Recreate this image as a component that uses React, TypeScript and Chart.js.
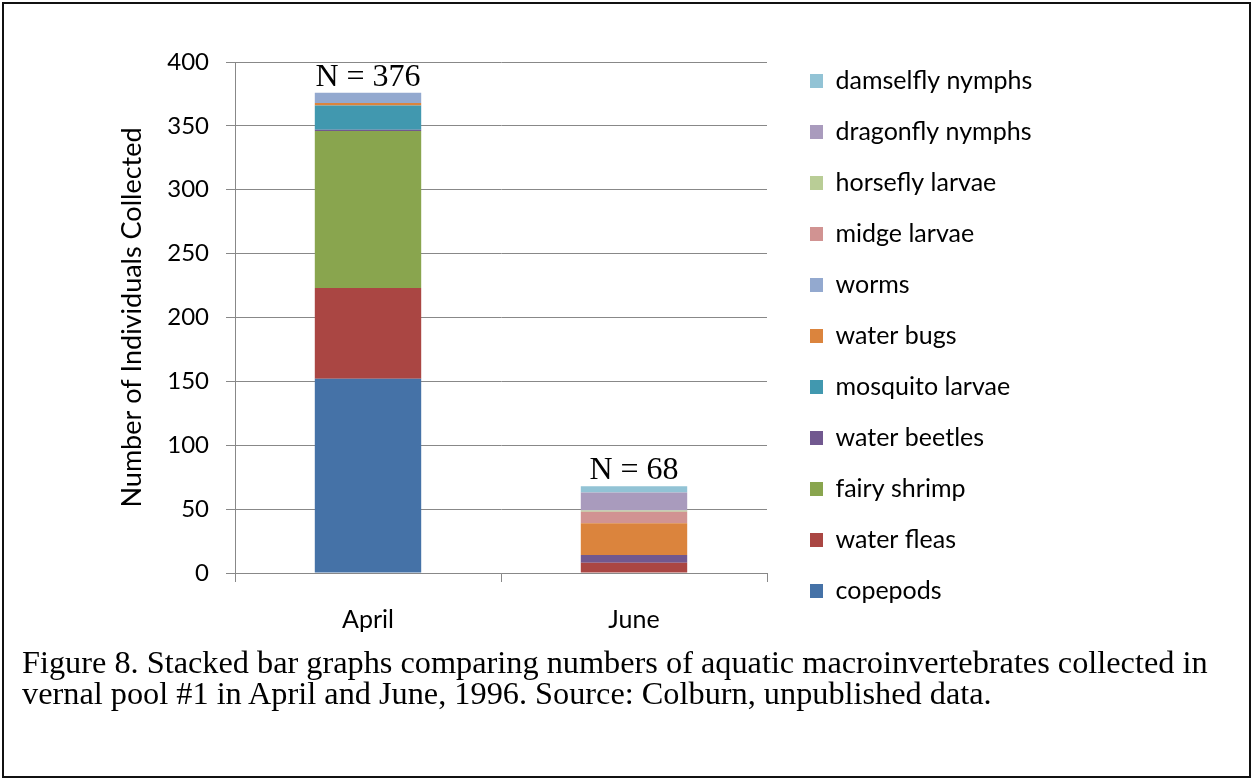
import React, { useEffect, useRef } from "react";
import { Chart, registerables } from "chart.js";

Chart.register(...registerables);

const months = ["April", "June"];
const seriesNames = [
  "copepods",
  "water fleas",
  "fairy shrimp",
  "water beetles",
  "mosquito larvae",
  "water bugs",
  "worms",
  "midge larvae",
  "horsefly larvae",
  "dragonfly nymphs",
  "damselfly nymphs",
];
const copepods = [152, 0];
const waterFleas = [71, 8];
const fairyShrimp = [123, 0];
const waterBeetles = [1, 6];
const mosquitoLarvae = [19, 0];
const waterBugs = [2, 25];
const worms = [8, 0];
const midgeLarvae = [0, 9];
const horseflyLarvae = [0, 1];
const dragonflyNymphs = [0, 14];
const damselflyNymphs = [0, 5];
const seriesValues = [
  copepods,
  waterFleas,
  fairyShrimp,
  waterBeetles,
  mosquitoLarvae,
  waterBugs,
  worms,
  midgeLarvae,
  horseflyLarvae,
  dragonflyNymphs,
  damselflyNymphs,
];
const seriesColors = [
  "#4572A7",
  "#AA4643",
  "#89A54E",
  "#71588F",
  "#4198AF",
  "#DB843D",
  "#93A9CF",
  "#D19392",
  "#B9CD96",
  "#A99BBD",
  "#92C3D5",
];
const yAxisTitle = "Number of Individuals Collected";
const captionLines = [
  "Figure 8. Stacked bar graphs comparing numbers of aquatic macroinvertebrates collected in",
  "vernal pool #1 in April and June, 1996. Source: Colburn, unpublished data.",
];

const W = 1253;
const H = 660;
const FONT = "Lato";
const TICK_FS = 24;
const LEG_FS = 25;
const PLOT_RIGHT = 767;

const totalsPlugin = {
  id: "totalsLabels",
  afterDatasetsDraw(chart: any) {
    const ctx = chart.ctx;
    const xs = chart.scales.x;
    const ys = chart.scales.y;
    ctx.save();
    ctx.font = '32px "Liberation Serif"';
    ctx.fillStyle = "#000";
    ctx.textAlign = "center";
    ctx.textBaseline = "alphabetic";
    months.forEach((_, i) => {
      const total = seriesValues.reduce((s, arr) => s + arr[i], 0);
      const x = xs.getPixelForValue(i);
      const y = ys.getPixelForValue(total) - 7;
      ctx.fillText(`N = ${total}`, x, y);
    });
    ctx.restore();
  },
};

export default function App() {
  const ref = useRef<HTMLCanvasElement | null>(null);

  useEffect(() => {
    if (!ref.current) return;
    const m = document.createElement("canvas").getContext("2d")!;
    m.font = `${LEG_FS}px ${FONT}`;
    const maxW = Math.max(...seriesNames.map((n) => m.measureText(n).width));
    const legPad = 26;
    const boxW = 13;
    const legendW = legPad + boxW + LEG_FS / 2 + maxW;
    const legendLeft = 784;
    const padRight = Math.max(0, W - legendLeft - legendW);

    const chart: any = new Chart(ref.current, {
      type: "bar",
      data: {
        labels: months,
        datasets: seriesNames.map((name, i) => ({
          label: name,
          data: seriesValues[i],
          backgroundColor: seriesColors[i],
          borderWidth: 0,
          barPercentage: 0.4,
          categoryPercentage: 1,
          xAxisID: "x",
          yAxisID: "y",
        })),
      },
      options: {
        responsive: false,
        animation: false,
        layout: { padding: { top: 38, bottom: 26, left: 100, right: padRight } },
        plugins: {
          title: {
            display: true,
            text: "",
            fullSize: false,
            font: { size: 10, lineHeight: 1 },
            padding: { top: 14, bottom: 0 },
          },
          tooltip: { enabled: false },
          legend: {
            position: "right",
            reverse: true,
            maxWidth: 500,
            labels: {
              boxWidth: boxW,
              boxHeight: 14,
              padding: legPad,
              color: "#000",
              font: { family: FONT, size: LEG_FS },
            },
          },
        },
        scales: {
          x: {
            stacked: true,
            grid: {
              display: true,
              drawOnChartArea: false,
              drawTicks: true,
              tickLength: 9,
              color: "#888",
              offset: true,
            },
            border: { display: true, color: "#888" },
            ticks: { color: "#000", padding: 23, font: { family: FONT, size: LEG_FS } },
            afterFit: (s: any) => {
              s.height = 61;
            },
          },
          y: {
            stacked: true,
            min: 0,
            max: 400,
            ticks: { stepSize: 50, color: "#000", padding: 17, font: { family: FONT, size: TICK_FS } },
            grid: { color: "#888", tickLength: 9 },
            border: { display: true, color: "#888" },
            title: {
              display: true,
              text: yAxisTitle,
              color: "#000",
              font: { family: FONT, size: 27 },
              padding: { top: 16, bottom: 0 },
            },
            afterFit: (s: any) => {
              s.width = 135;
            },
          },
          y2: {
            position: "right",
            display: true,
            grid: { display: false, drawTicks: false },
            border: { display: false },
            ticks: { display: false },
            afterFit: (s: any) => {
              s.width = 17;
            },
          },
        },
      },
      plugins: [totalsPlugin],
    });
    const delta = Math.round(chart.chartArea.right - PLOT_RIGHT);
    if (delta !== 0) {
      chart.options.layout.padding.right = Math.max(0, padRight + delta);
      chart.update();
    }
    return () => chart.destroy();
  }, []);

  return (
    <div
      style={{
        position: "absolute",
        left: 0,
        top: 0,
        width: W,
        height: 780,
        background: "#fff",
        overflow: "hidden",
      }}
    >
      <div
        style={{
          position: "absolute",
          left: 2,
          top: 2,
          width: 1249,
          height: 776,
          boxSizing: "border-box",
          border: "2px solid #111",
        }}
      />
      <canvas
        ref={ref}
        width={W}
        height={H}
        style={{ position: "absolute", left: 0, top: 0, width: W, height: H, display: "block" }}
      />
      <div
        style={{
          position: "absolute",
          left: 22,
          top: 647,
          fontFamily: '"Liberation Serif", "Times New Roman", serif',
          fontSize: 32.3,
          lineHeight: "31px",
          color: "#000",
          whiteSpace: "nowrap",
        }}
      >
        {captionLines.map((l, i) => (
          <div key={i}>{l}</div>
        ))}
      </div>
    </div>
  );
}
